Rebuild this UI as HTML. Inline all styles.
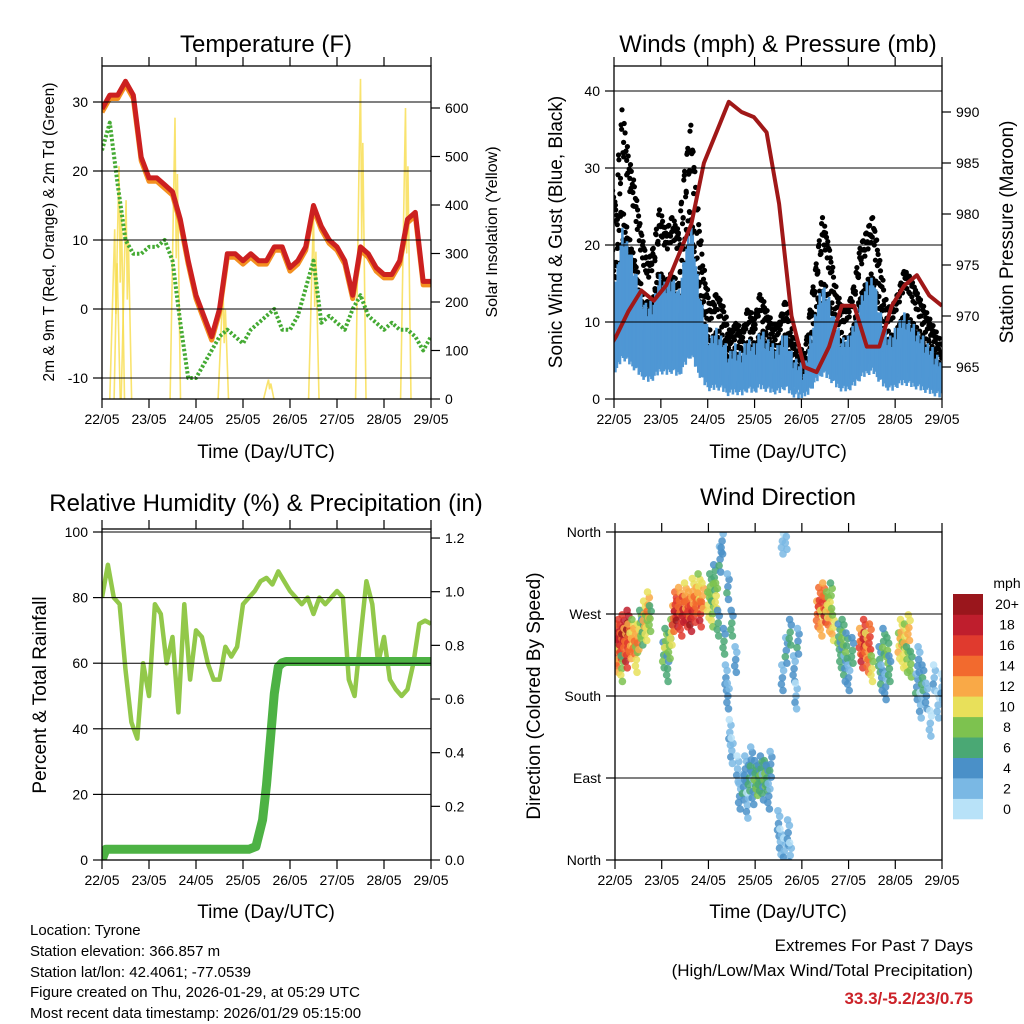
<!DOCTYPE html>
<html><head><meta charset="utf-8"><style>
html,body{margin:0;padding:0;background:#fff;}
svg{display:block;font-family:"Liberation Sans",sans-serif;}
</style></head><body>
<svg id="s" width="1024" height="1024" viewBox="0 0 1024 1024" xmlns="http://www.w3.org/2000/svg">
<defs>
<clipPath id="cT"><rect x="102" y="66" width="329" height="333"/></clipPath>
<clipPath id="cW"><rect x="614" y="66" width="328" height="333"/></clipPath>
<clipPath id="cR"><rect x="102" y="529" width="329" height="331"/></clipPath>
<clipPath id="cD"><rect x="615" y="532" width="327" height="328"/></clipPath>
</defs>
<g id="texts" font-size="14" fill="#000">
<text x="266" y="52" font-size="24" text-anchor="middle">Temperature (F)</text>
<text x="778" y="52" font-size="24" text-anchor="middle">Winds (mph) &amp; Pressure (mb)</text>
<text x="266" y="511" font-size="24" text-anchor="middle">Relative Humidity (%) &amp; Precipitation (in)</text>
<text x="778" y="505" font-size="24" text-anchor="middle">Wind Direction</text>
<text x="266" y="458" font-size="19" text-anchor="middle">Time (Day/UTC)</text>
<text x="778" y="458" font-size="19" text-anchor="middle">Time (Day/UTC)</text>
<text x="266" y="918" font-size="19" text-anchor="middle">Time (Day/UTC)</text>
<text x="778" y="918" font-size="19" text-anchor="middle">Time (Day/UTC)</text>
<text transform="translate(54,232) rotate(-90)" font-size="15.5" text-anchor="middle">2m &amp; 9m T (Red, Orange) &amp; 2m Td (Green)</text>
<text transform="translate(497,232) rotate(-90)" font-size="16" text-anchor="middle">Solar Insolation (Yellow)</text>
<text transform="translate(562,232) rotate(-90)" font-size="19" text-anchor="middle">Sonic Wind &amp; Gust (Blue, Black)</text>
<text transform="translate(1013,232) rotate(-90)" font-size="19" text-anchor="middle">Station Pressure (Maroon)</text>
<text transform="translate(46,695) rotate(-90)" font-size="19" text-anchor="middle">Percent &amp; Total Rainfall</text>
<text transform="translate(540,696) rotate(-90)" font-size="19" text-anchor="middle">Direction (Colored By Speed)</text>
<g font-size="15">
<text x="30" y="935">Location: Tyrone</text>
<text x="30" y="956">Station elevation: 366.857 m</text>
<text x="30" y="977">Station lat/lon: 42.4061; -77.0539</text>
<text x="30" y="997">Figure created on Thu, 2026-01-29, at 05:29 UTC</text>
<text x="30" y="1018">Most recent data timestamp: 2026/01/29 05:15:00</text>
</g>
<g font-size="17" text-anchor="end">
<text x="973" y="951">Extremes For Past 7 Days</text>
<text x="973" y="976">(High/Low/Max Wind/Total Precipitation)</text>
<text x="973" y="1004" fill="#cc2229" font-weight="bold">33.3/-5.2/23/0.75</text>
</g>
</g>
</svg>
<script>
// ---------- data ----------
const dayLabels=["22/05","23/05","24/05","25/05","26/05","27/05","28/05","29/05"];
const tHours4=[0,4,8,12,16,20,24,28,32,36,40,44,48,52,56,60,64,68,72,76,80,84,88,92,96,100,104,108,112,116,120,124,128,132,136,140,144,148,152,156,160,164,168];
const tempRed=[29,31,31,33,31,22,19,19,18,17,13,7,2,-1,-4,0,8,8,7,8,7,7,9,9,6,7,9,15,12,10,9,7,2,9,8,6,5,5,7,13,14,4,4];
const dewGreen=[23,27,18,10,8,8,9,9,10,7,-2,-10,-10,-8,-6,-4,-3,-4,-5,-3,-2,-1,0,-3,-3,-1,3,7,-2,-1,-2,-3,0,2,-1,-2,-3,-2,-3,-3,-4,-6,-4];
const solarPeakHours=[6.5,8.7,12.3,37.3,61.8,85,108,132,155];
const solarPeakValues=[350,480,410,580,230,40,380,660,600];
const tempTicks=[30,20,10,0,-10];
const solarTicks=[0,100,200,300,400,500,600];

const windHours=[-11.8,-8.6,-5.4,-2.1,1.1,4.3,7.5,10.7,14.0,17.2,20.4,23.6,26.8,30.0,33.3,36.5,39.7,42.9,46.2,49.4,52.6,55.8,59.0,62.3,65.5,68.7,71.9,75.1,78.4,81.6,84.8,88.0,91.2,94.4,97.7,100.9,104.1,107.3,110.5,113.8,117.0,120.2,123.4,126.6,129.9,133.1,136.3,139.5,142.7,146.0,149.2,152.4,155.6,158.8,162.0,165.3,168.5];
const gustValues=[25,27,22,30,25,38,32,28,22,18,20,25,22,24,22,30,36,25,16,12,14,12,8,10,8,12,10,14,11,9,10,13,8,6,5,12,18,24,20,14,12,12,15,20,22,24,18,12,12,14,17,16,14,12,10,8,6];
const windValues=[15,14,12,18,14,20,18,15,12,10,11,14,13,14,12,17,21,14,9,6,7,6,4,5,4,6,5,7,6,5,5,7,4,3,2,6,10,13,11,8,6,6,8,11,13,14,10,7,6,8,9,8,7,6,5,4,3];
const pressHours=[-11.8,-5.4,1.1,7.5,14.0,20.4,26.8,33.3,39.7,46.2,52.6,59.0,65.5,71.9,78.4,84.8,91.2,97.7,104.1,110.5,117.0,123.4,129.9,136.3,142.7,149.2,155.6,162.0,168.5];
const pressValues=[967,966,968,970.5,972.5,971.5,973,976,979,985,988,991,990,989.5,988,981,970,965,964.5,967,971,971,967,967,971,973,974,972,971];
const windTicks=[0,10,20,30,40];
const pressTicks=[965,970,975,980,985,990];

const rhHours=[0,3,6,9,12,15,18,21,24,27,30,33,36,39,42,45,48,51,54,57,60,63,66,69,72,75,78,81,84,87,90,93,96,99,102,105,108,111,114,117,120,123,126,129,132,135,138,141,144,147,150,153,156,159,162,165,168];
const rhValues=[80,90,80,78,58,42,37,60,50,78,75,60,68,45,78,55,70,68,60,55,55,65,62,65,78,80,82,85,86,84,88,85,82,80,78,80,75,80,78,80,82,80,55,50,68,85,78,60,68,55,52,50,52,60,72,73,72];
const precipHours=[0,2,75,78.6,82,84,86,88,90,92,94,168];
const precipValues=[0,0.04,0.04,0.05,0.15,0.28,0.45,0.62,0.72,0.735,0.74,0.74];
const rhTicks=[0,20,40,60,80,100];
const precipTicks=[0,0.2,0.4,0.6,0.8,1.0,1.2];

const dirHours=[0,1,1.5,2,3,3.5,4,5,6,6.5,7,8,9,10,11,12,13,14,15,16,17,18,25,26,27,28,29,30,31,32,33,34,35,36,37,38,39,40,41,42,43,44,45,48,49,50,51,52,53,54,55,56,57,58,59,60,58,60,62,63,64,66,67,68,69,70,71,72,73,74,75,76,77,78,79,80,84,85,86,87,88,89,90,86,88,90,92,93,94,104,105,106,107,108,109,110,111,112,115,116,117,118,119,120,122,126,127,128,129,130,131,132,136,137,138,139,140,141,146,147,148,149,150,151,152,155,156,157,158,160,162,164,166,168];
const dirDegrees=[230,245,220,250,235,210,255,240,225,260,245,235,250,240,220,245,260,250,270,255,280,265,225,240,210,235,250,265,280,270,285,260,275,290,270,280,265,295,275,285,300,270,290,280,300,270,310,290,260,330,350,240,200,180,140,120,300,260,220,100,70,80,100,60,90,110,75,95,85,90,100,80,95,90,70,105,40,20,350,10,355,30,5,200,230,250,210,180,240,270,285,260,290,275,280,265,290,255,245,225,250,210,235,200,230,240,225,250,235,220,245,210,220,200,240,190,230,210,235,250,225,245,220,255,215,190,220,170,200,180,150,200,170,190];
const dirSpeeds=[14,16,12,17,15,8,18,13,16,19,14,12,10,13,9,12,8,6,11,9,12,7,6,8,5,7,9,14,16,18,13,15,17,12,16,14,18,11,15,13,10,16,12,9,7,8,6,9,5,4,3,5,3,3,2,2,4,5,3,2,3,4,3,2,5,4,3,6,7,5,6,4,7,5,3,4,3,2,1,2,1,3,2,3,4,5,3,2,4,13,15,11,14,16,9,12,8,10,6,5,7,4,6,3,5,14,16,17,12,13,15,9,5,4,6,3,7,5,10,11,9,10,8,11,7,4,3,2,5,3,1,2,1,2];
const dirTickLabels=["North","East","South","West","North"];
const speedBinLabels=["0","2","4","6","8","10","12","14","16","18","20+"];
const speedColors=["#b8e2f8","#7ab8e4","#4a90c8","#4aa874","#7dc24f","#e8e05a","#f9a947","#f26a2e","#e03a2e","#bf1e2d","#9a161c"];

// ---------- helpers ----------
const NS="http://www.w3.org/2000/svg";
const svg=document.getElementById('s');
function mk(tag,attrs,parent){const e=document.createElementNS(NS,tag);for(const k in attrs)e.setAttribute(k,attrs[k]);(parent||svg).appendChild(e);return e;}
function pts(xs,ys,fx,fy){return xs.map((x,i)=>fx(x).toFixed(1)+','+fy(ys[i]).toFixed(1)).join(' ');}
const jit=[0.3,-0.8,0.6,-0.2,0.9,-0.6,0.1,-0.9,0.5,-0.4,0.8,-0.1];

// scales
const xT=h=>102+h*329/168, yT=v=>309-v*6.9, yS=v=>399-v*0.485;
const xW=h=>614+h*327/168, yW=v=>399-v*7.7, yP=p=>316-(p-970)*10.2;
const xR=h=>102+h*329/168, yR=v=>860-v*3.28, yPr=v=>860-v*268.3;
const xD=h=>615+h*327/168, yD=d=>860-d*328/360;

function frame(x0,y0,x1,y1,name){
  const r=mk('rect',{x:x0,y:y0,width:x1-x0,height:y1-y0,fill:'none',stroke:'#000','stroke-width':1.3});
  
  
}
function xAxis(x0,x1,y0,y1,name){
  const g=mk('g',{});
  
  
  dayLabels.forEach((lab,i)=>{
    const x=x0+i*(x1-x0)/7;
    mk('line',{x1:x,x2:x,y1:y1,y2:y1+9,stroke:'#000','stroke-width':1.2},g);
    mk('line',{x1:x,x2:x,y1:y0,y2:y0-9,stroke:'#000','stroke-width':1.2},g);
    const t=mk('text',{x:x,y:y1+25,'font-size':14,'text-anchor':'middle'},g);
    t.textContent=lab;
  });
}
function yAxisLeft(vals,fy,x0,x1,grid,labels,name){
  const g=mk('g',{});
  
  
  vals.forEach((v,i)=>{
    const y=fy(v);
    mk('line',{x1:x0-9,x2:x0,y1:y,y2:y,stroke:'#000','stroke-width':1.2},g);
    if(grid) mk('line',{x1:x0,x2:x1,y1:y,y2:y,stroke:'#000','stroke-width':1},g);
    const t=mk('text',{x:x0-14,y:y+5,'font-size':14,'text-anchor':'end'},g);
    t.textContent=labels?labels[i]:v;
  });
}
function yAxisRight(vals,fy,x1,fmt,name){
  const g=mk('g',{});
  
  
  vals.forEach(v=>{
    const y=fy(v);
    mk('line',{x1:x1,x2:x1+9,y1:y,y2:y,stroke:'#000','stroke-width':1.2},g);
    const t=mk('text',{x:x1+14,y:y+5,'font-size':14},g);
    t.textContent=fmt?fmt(v):v;
  });
}

// ---------- Temperature panel ----------
(function(){
  const g=mk('g',{'clip-path':'url(#cT)'});
  
  
  solarPeakHours.forEach((h,i)=>{
    const s=mk('polyline',{points:[[h-2.5,0],[h-0.8,solarPeakValues[i]*0.7],[h,solarPeakValues[i]],[h+0.6,solarPeakValues[i]*0.5],[h+1.2,solarPeakValues[i]*0.8],[h+2.8,0]].map(p=>xT(p[0]).toFixed(1)+','+yS(p[1]).toFixed(1)).join(' '),fill:'none',stroke:'#f7dc4a','stroke-width':1.6,opacity:0.8},g);
    
    
  });
  const o=mk('polyline',{points:pts(tHours4,tempRed.map(v=>v-0.5),xT,yT),fill:'none',stroke:'#f39020','stroke-width':5,'stroke-linejoin':'round'},g);
  
  
  const r=mk('polyline',{points:pts(tHours4,tempRed,xT,yT),fill:'none',stroke:'#cc2020','stroke-width':5,'stroke-linejoin':'round'},g);
  
  
  const d=mk('polyline',{points:pts(tHours4,dewGreen,xT,yT),fill:'none',stroke:'#44aa33','stroke-width':4,'stroke-dasharray':'2.5 2','stroke-linejoin':'round'},g);
  
  
})();
yAxisLeft(tempTicks,yT,102,431,true,null,'temp-y-axis');
yAxisRight(solarTicks,yS,431,null,'solar-y-axis');
xAxis(102,431,66,399,'temp-x-axis');
frame(102,66,431,399,'temperature-frame');

// ---------- Winds panel ----------
(function(){
  const g=mk('g',{'clip-path':'url(#cW)'});
  
  
  let n=0;
  for(let i=0;i<windHours.length-1;i++){
    for(let k=0;k<6;k++){
      const f=k/6, h=windHours[i]+(windHours[i+1]-windHours[i])*f;
      const gv=gustValues[i]+(gustValues[i+1]-gustValues[i])*f;
      const wv=windValues[i]+(windValues[i+1]-windValues[i])*f;
      for(let m=0;m<4;m++){
        const fr=m/3, j=jit[(n++)%jit.length];
        const v=wv+(gv-wv)*fr+j*2.2;
        const c=mk('circle',{cx:(xW(h)+j*2).toFixed(1),cy:yW(v).toFixed(1),r:2.6,fill:'#000'},g);
        
        
      }
    }
  }
  for(let i=0;i<windHours.length-1;i++){
    for(let k=0;k<8;k++){
      const f=k/8, h=windHours[i]+(windHours[i+1]-windHours[i])*f;
      const wv=windValues[i]+(windValues[i+1]-windValues[i])*f;
      const j=jit[(i*8+k)%jit.length];
      const l=mk('line',{x1:xW(h).toFixed(1),x2:xW(h).toFixed(1),y1:yW(wv+j*2.5).toFixed(1),y2:yW(wv*0.3+j).toFixed(1),stroke:'#4f97d4','stroke-width':2.6},g);
      
      
    }
  }
  const p=mk('polyline',{points:pts(pressHours,pressValues,xW,yP),fill:'none',stroke:'#a01818','stroke-width':4,'stroke-linejoin':'round'},g);
  
  
})();
yAxisLeft(windTicks,yW,614,942,true,null,'wind-y-axis');
yAxisRight(pressTicks,yP,942,null,'pressure-y-axis');
xAxis(614,942,66,399,'wind-x-axis');
frame(614,66,942,399,'winds-frame');

// ---------- RH panel ----------
(function(){
  const g=mk('g',{'clip-path':'url(#cR)'});
  
  
  const r=mk('polyline',{points:pts(rhHours,rhValues,xR,yR),fill:'none',stroke:'#92c84a','stroke-width':4.5,'stroke-linejoin':'round'},g);
  
  
  const p=mk('polyline',{points:pts(precipHours,precipValues,xR,yPr),fill:'none',stroke:'#4db244','stroke-width':9,'stroke-linejoin':'round','stroke-linecap':'round'},g);
  
  
})();
yAxisLeft(rhTicks,yR,102,431,true,null,'rh-y-axis');
yAxisRight(precipTicks,yPr,431,v=>v.toFixed(1),'precip-y-axis');
xAxis(102,431,529,860,'rh-x-axis');
frame(102,529,431,860,'humidity-frame');

// ---------- Wind direction panel ----------
function speedColor(s){let b=Math.floor((s+1)/2);if(b>10)b=10;if(b<0)b=0;return speedColors[b];}
(function(){
  const g=mk('g',{'clip-path':'url(#cD)'});
  
  
  const offs=[[0,0,0],[0.6,8,-1],[-0.5,-7,1],[0.3,-14,0],[-0.3,14,-2]];
  dirHours.forEach((h,i)=>{
    offs.forEach(o=>{
      const c=mk('circle',{cx:xD(h+o[0]).toFixed(1),cy:yD(dirDegrees[i]+o[1]).toFixed(1),r:3.8,fill:speedColor(dirSpeeds[i]+o[2]),opacity:0.85},g);
      
      
    });
  });
})();
yAxisLeft([0,90,180,270,360],yD,615,942,true,dirTickLabels,'direction-y-axis');
xAxis(615,942,532,860,'dir-x-axis');
frame(615,532,942,860,'direction-frame');

// colorbar
(function(){
  const g=mk('g',{});
  
  
  const t=mk('text',{x:1007,y:588,'font-size':14,'text-anchor':'middle'},g);
  t.textContent='mph';
  const bh=225/11;
  speedBinLabels.forEach((lab,i)=>{
    const y=819-(i+1)*bh;
    const r=mk('rect',{x:953,y:y.toFixed(1),width:30,height:(bh+0.3).toFixed(1),fill:speedColors[i]},g);
    
    
    const l=mk('text',{x:1007,y:(y+bh/2+5).toFixed(1),'font-size':14,'text-anchor':'middle'},g);
    l.textContent=lab;
  });
})();
</script>
</body></html>
